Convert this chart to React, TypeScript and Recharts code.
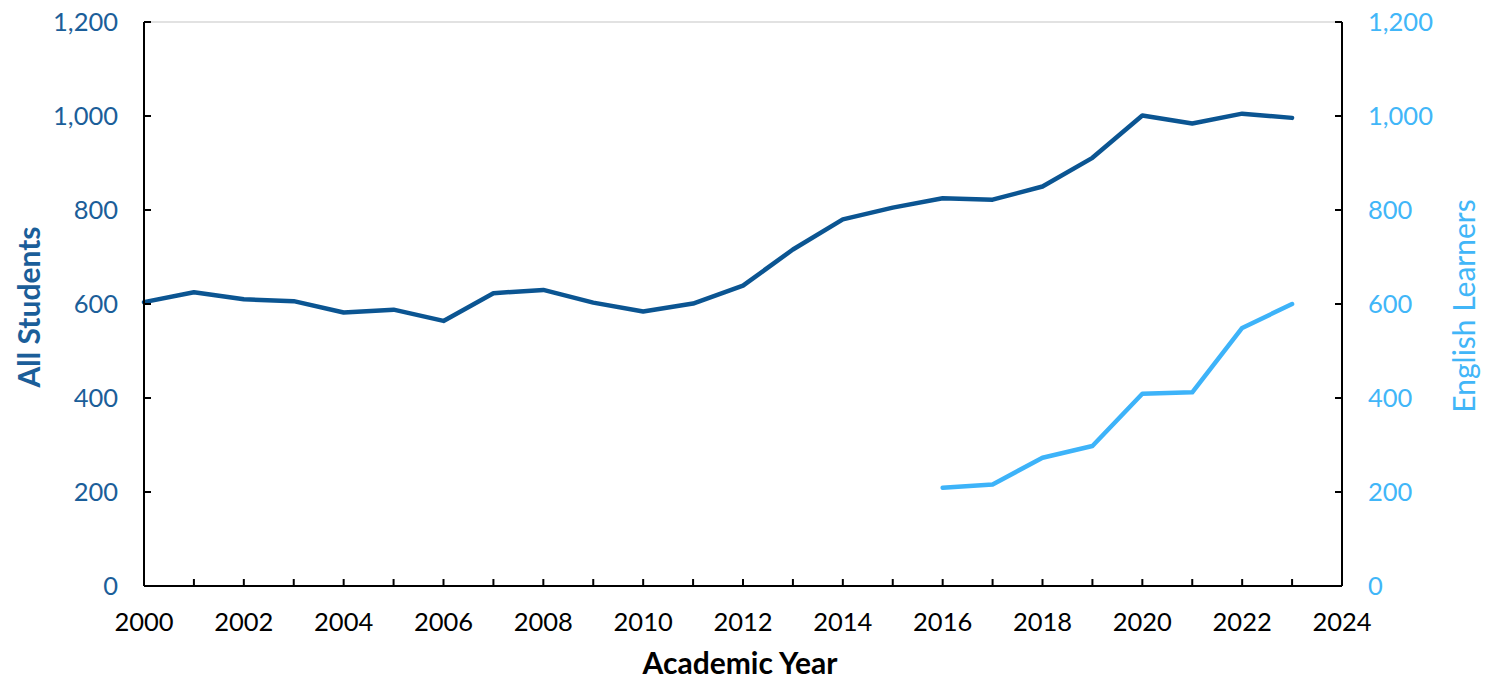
import { LineChart, Line, XAxis, YAxis, CartesianGrid } from 'recharts';

const years = [
  2000, 2001, 2002, 2003, 2004, 2005, 2006, 2007, 2008, 2009, 2010, 2011,
  2012, 2013, 2014, 2015, 2016, 2017, 2018, 2019, 2020, 2021, 2022, 2023,
];
const allStudents = [
  604, 625, 610, 606, 582, 588, 564, 623, 630, 603, 584, 601,
  639, 716, 780, 805, 825, 822, 850, 911, 1001, 984, 1005, 996,
];
// English learners only reported from 2016 on
const englishLearners = [
  null, null, null, null, null, null, null, null, null, null, null, null,
  null, null, null, null, 209, 216, 273, 298, 409, 412, 549, 600,
];
const xTicks = [
  2000, 2001, 2002, 2003, 2004, 2005, 2006, 2007, 2008, 2009, 2010, 2011, 2012,
  2013, 2014, 2015, 2016, 2017, 2018, 2019, 2020, 2021, 2022, 2023, 2024,
];
const yTicks = [0, 200, 400, 600, 800, 1000, 1200];

const data = years.map((year, i) => ({
  year,
  all: allStudents[i],
  el: englishLearners[i],
}));

const DARK = '#0b5592';
const LIGHT = '#3db3f9';
const DARK_TEXT = '#1b5e99';
const LIGHT_TEXT = '#41b6f8';
const FONT = 'Lato, "Open Sans", sans-serif';
const TICK_LEN = 7;
const X_MARGIN = 22;
const Y_MARGIN = 26;
const TICK_FONT = 25.5;
const TITLE_FONT = 30;

const fmt = (v: number) => v.toLocaleString('en-US');

const XTick = (props: any) => {
  const { x, y, payload } = props;
  const axisY = y - X_MARGIN;
  const showLabel = payload.value % 2 === 0;
  return (
    <g>
      {payload.value > 2000 && payload.value < 2024 && (
        <line x1={x} x2={x} y1={axisY} y2={axisY - TICK_LEN} stroke="#000" strokeWidth={2} />
      )}
      {showLabel && (
        <text x={x} y={axisY + 45} textAnchor="middle" fill="#000" fontSize={TICK_FONT} fontFamily={FONT}>
          {payload.value}
        </text>
      )}
    </g>
  );
};

const LeftTick = (props: any) => {
  const { x, y, payload } = props;
  const axisX = x + Y_MARGIN;
  return (
    <g>
      {payload.value > 0 && (
        <line x1={axisX} x2={axisX + TICK_LEN} y1={y} y2={y} stroke="#000" strokeWidth={2} />
      )}
      <text x={x} y={y} dy="0.35em" textAnchor="end" fill={DARK_TEXT} fontSize={TICK_FONT} fontFamily={FONT}>
        {fmt(payload.value)}
      </text>
    </g>
  );
};

const RightTick = (props: any) => {
  const { x, y, payload } = props;
  const axisX = x - Y_MARGIN;
  return (
    <g>
      {payload.value > 0 && (
        <line x1={axisX} x2={axisX - TICK_LEN} y1={y} y2={y} stroke="#000" strokeWidth={2} />
      )}
      <text x={x} y={y} dy="0.35em" textAnchor="start" fill={LIGHT_TEXT} fontSize={TICK_FONT} fontFamily={FONT}>
        {fmt(payload.value)}
      </text>
    </g>
  );
};

export default function App() {
  return (
    <div style={{ position: 'absolute', left: 0, top: 0, background: '#fff' }}>
      <LineChart width={1485} height={685} data={data} margin={{ top: 22, right: 0, left: 0, bottom: 0 }}>
        <CartesianGrid vertical={false} stroke="#d9d9d9" strokeWidth={1.5} />
        <XAxis
          dataKey="year"
          type="number"
          domain={[2000, 2024]}
          ticks={xTicks}
          interval={0}
          height={99}
          tickSize={0}
          tickMargin={X_MARGIN}
          tick={<XTick />}
          axisLine={{ stroke: '#000', strokeWidth: 2 }}
          label={{
            content: (p: any) => {
              const vb = p.viewBox;
              return (
                <text
                  x={vb.x + vb.width / 2 - 3}
                  y={vb.y + 88}
                  textAnchor="middle"
                  fill="#000"
                  fontSize={TITLE_FONT}
                  fontWeight="bold"
                  fontFamily={FONT}
                >
                  Academic Year
                </text>
              );
            },
          }}
        />
        <YAxis
          yAxisId="left"
          orientation="left"
          width={144}
          domain={[0, 1200]}
          ticks={yTicks}
          interval={0}
          tickSize={0}
          tickMargin={Y_MARGIN}
          tick={<LeftTick />}
          axisLine={{ stroke: '#000', strokeWidth: 2 }}
          label={{
            content: (p: any) => {
              const vb = p.viewBox;
              const cx = vb.x + 28;
              const cy = vb.y + vb.height / 2 + 3;
              return (
                <text
                  x={cx}
                  y={cy}
                  transform={`rotate(-90 ${cx} ${cy})`}
                  textAnchor="middle"
                  dominantBaseline="central"
                  fill={DARK_TEXT}
                  fontSize={TITLE_FONT}
                  fontWeight="bold"
                  fontFamily={FONT}
                >
                  All Students
                </text>
              );
            },
          }}
        />
        <YAxis
          yAxisId="right"
          orientation="right"
          width={143}
          domain={[0, 1200]}
          ticks={yTicks}
          interval={0}
          tickSize={0}
          tickMargin={Y_MARGIN}
          tick={<RightTick />}
          axisLine={{ stroke: '#000', strokeWidth: 2 }}
          label={{
            content: (p: any) => {
              const vb = p.viewBox;
              const cx = vb.x + vb.width - 22;
              const cy = vb.y + vb.height / 2 + 2;
              return (
                <text
                  x={cx}
                  y={cy}
                  transform={`rotate(-90 ${cx} ${cy})`}
                  textAnchor="middle"
                  dominantBaseline="central"
                  fill={LIGHT_TEXT}
                  fontSize={TITLE_FONT}
                  fontFamily={FONT}
                >
                  English Learners
                </text>
              );
            },
          }}
        />
        <Line
          yAxisId="left"
          dataKey="all"
          type="linear"
          stroke={DARK}
          strokeWidth={4.5}
          strokeLinecap="round"
          strokeLinejoin="round"
          dot={false}
          activeDot={false}
          isAnimationActive={false}
        />
        <Line
          yAxisId="right"
          dataKey="el"
          type="linear"
          stroke={LIGHT}
          strokeWidth={4.5}
          strokeLinecap="round"
          strokeLinejoin="round"
          dot={false}
          activeDot={false}
          connectNulls={false}
          isAnimationActive={false}
        />
      </LineChart>
    </div>
  );
}
